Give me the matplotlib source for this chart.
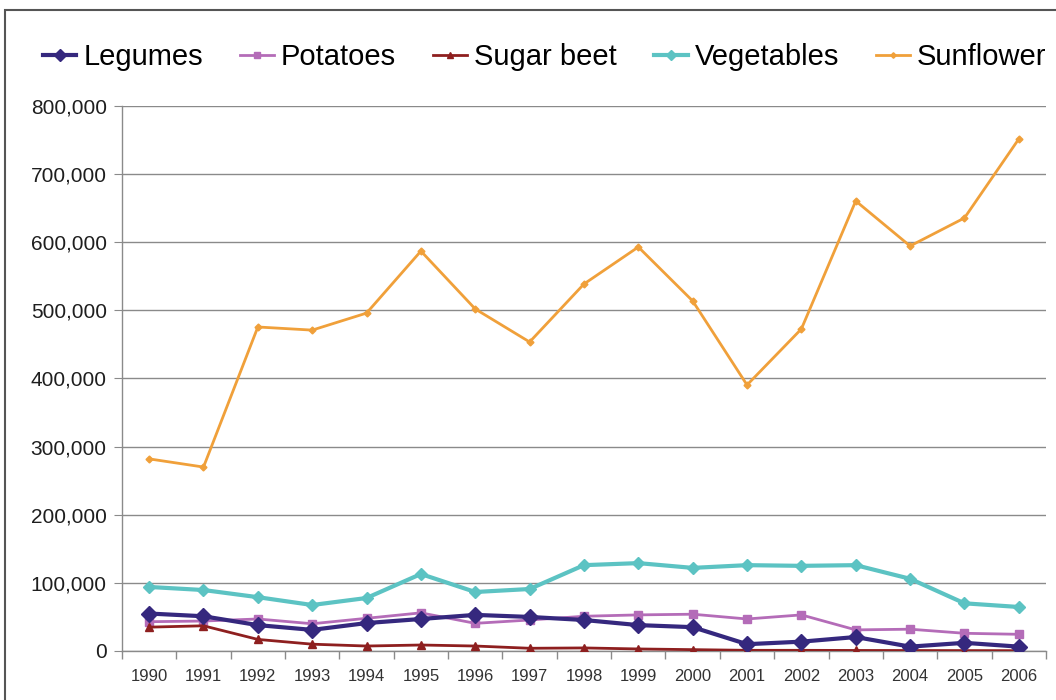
import numpy as np
import matplotlib.pyplot as plt
from matplotlib.patches import Rectangle
from matplotlib.ticker import FuncFormatter, FixedLocator

plt.rcParams['font.family'] = ['Liberation Sans', 'DejaVu Sans']

# harvested area per crop
years = list(range(1990, 2007))
legumes = [55000, 51000, 38000, 31000, 41000, 47000, 53000, 50000, 45500,
           38000, 35000, 10000, 13700, 20500, 6400, 12000, 6400]
potatoes = [43000, 44000, 47000, 40000, 48000, 56000, 40600, 45500, 51000,
            53000, 54000, 47000, 53000, 31000, 32000, 26000, 24500]
sugar_beet = [35000, 37000, 17000, 10000, 7300, 8800, 7300, 4000, 4500,
              3000, 2000, 1000, 1000, 800, 700, 600, 500]
vegetables = [94000, 89500, 79000, 67500, 77800, 113000, 86600, 91000, 126000,
              129000, 122000, 126000, 125000, 126000, 106000, 70000, 64600]
sunflower = [282000, 270000, 475600, 471000, 496000, 587000, 502000, 453600,
             538700, 593000, 513800, 390500, 472700, 660600, 594500, 635600, 751600]

fig = plt.figure(figsize=(10.56, 7.0), dpi=100)
ax = fig.add_axes([0.1155, 0.07, 0.875, 0.7786])

x = np.arange(len(years))
ax.plot(x, legumes, color='#35287e', lw=3, marker='D', ms=8, label='Legumes', zorder=5)
ax.plot(x, potatoes, color='#b46cb8', lw=2, marker='s', ms=6, label='Potatoes', zorder=4)
ax.plot(x, sugar_beet, color='#8e1f1f', lw=2, marker='^', ms=6, label='Sugar beet', zorder=4)
ax.plot(x, vegetables, color='#5cc3c3', lw=3, marker='D', ms=6, label='Vegetables', zorder=3)
ax.plot(x, sunflower, color='#f0a03a', lw=2, marker='D', ms=3.5, label='Sunflower', zorder=3)

ax.set_xlim(-0.5, len(years) - 0.5)
ax.set_ylim(0, 800000)
ax.set_yticks(np.arange(0, 800001, 100000))
ax.yaxis.set_major_formatter(FuncFormatter(lambda v, p: '{:,.0f}'.format(v)))
ax.yaxis.grid(True, color='#8a8a8a', lw=1)
ax.set_axisbelow(True)

# year labels in the middle of each slot, tick marks on the slot borders
ax.set_xticks(x)
ax.set_xticklabels([str(y) for y in years])
ax.xaxis.set_minor_locator(FixedLocator(np.arange(-0.5, len(years), 1)))
ax.tick_params(axis='x', which='major', length=0, labelsize=12, labelcolor='#333333', pad=13)
ax.tick_params(axis='x', which='minor', length=6, color='#8a8a8a', width=1)
ax.tick_params(axis='y', length=6, color='#8a8a8a', labelsize=15, labelcolor='#1e1e1e', pad=5)

for s in ['top', 'right']:
    ax.spines[s].set_visible(False)
for s in ['left', 'bottom']:
    ax.spines[s].set_color('#8a8a8a')
    ax.spines[s].set_linewidth(1)

fig.legend(loc='center', bbox_to_anchor=(0.5156, 0.9186), ncol=5, frameon=False,
           fontsize=21, handlelength=1.16, handletextpad=0.24, columnspacing=1.27,
           markerscale=0.8)

# outer frame around the chart
fig.patches.append(Rectangle((0.005, -0.05), 1.2, 1.0357,
                             transform=fig.transFigure, fill=False,
                             edgecolor='#555555', lw=1.5))

fig.savefig('out.png', dpi=100)
